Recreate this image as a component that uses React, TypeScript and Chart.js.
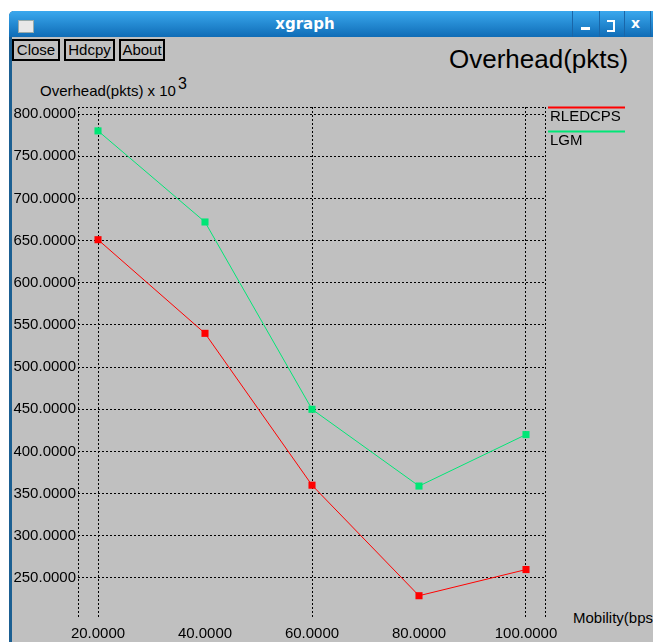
import React, { useEffect, useRef } from "react";
import { Chart, registerables } from "chart.js";

Chart.register(...registerables);

const mobility = [20, 40, 60, 80, 100];
const rledcpsValues = [651, 540, 360, 229, 260];
const lgmValues = [780, 672, 450, 359, 420];
const seriesNames = ["RLEDCPS", "LGM"];
const yTicks = [250, 300, 350, 400, 450, 500, 550, 600, 650, 700, 750, 800];
const xTicks = [20, 40, 60, 80, 100];
const xGridAt = [20, 60, 100];

const FONT = "'Liberation Sans', Arial, sans-serif";
const GRAY = "#c0c0c0";

const frameAndLegend = {
  id: "frameAndLegend",
  afterDraw(chart: any) {
    const { ctx, chartArea } = chart;
    const { left, right, top, bottom } = chartArea;
    ctx.save();
    ctx.strokeStyle = "#000";
    ctx.lineWidth = 1;
    ctx.setLineDash([2, 2]);
    ctx.beginPath();
    ctx.moveTo(left, top + 0.5);
    ctx.lineTo(right, top + 0.5);
    ctx.moveTo(right - 0.5, top);
    ctx.lineTo(right - 0.5, bottom);
    ctx.moveTo(left + 0.5, top);
    ctx.lineTo(left + 0.5, bottom);
    ctx.stroke();
    ctx.setLineDash([]);
    chart.data.datasets.forEach((ds: any, i: number) => {
      const y = top + i * 24;
      ctx.strokeStyle = ds.borderColor;
      ctx.lineWidth = 2;
      ctx.beginPath();
      ctx.moveTo(right + 2, y + 0.5);
      ctx.lineTo(right + 79, y + 0.5);
      ctx.stroke();
      ctx.fillStyle = "#000";
      ctx.font = `15px ${FONT}`;
      ctx.textBaseline = "top";
      ctx.textAlign = "left";
      ctx.fillText(ds.label, right + 4, y + 2);
    });
    ctx.restore();
  },
};

export default function App() {
  const canvasRef = useRef<HTMLCanvasElement | null>(null);

  useEffect(() => {
    document.body.style.margin = "0";
    const canvas = canvasRef.current;
    if (!canvas) return;
    const chart = new Chart(canvas, {
      type: "line",
      data: {
        datasets: [
          {
            label: seriesNames[0],
            data: mobility.map((x, i) => ({ x, y: rledcpsValues[i] })),
            borderColor: "#ff0000",
            backgroundColor: "#ff0000",
            borderWidth: 1,
            pointStyle: "rect",
            pointRadius: 5,
            pointBorderWidth: 0,
          },
          {
            label: seriesNames[1],
            data: mobility.map((x, i) => ({ x, y: lgmValues[i] })),
            borderColor: "#00e676",
            backgroundColor: "#00e676",
            borderWidth: 1,
            pointStyle: "rect",
            pointRadius: 5,
            pointBorderWidth: 0,
          },
        ],
      },
      options: {
        responsive: false,
        animation: false,
        events: [],
        layout: { padding: { left: 0, top: 107, right: 107, bottom: 0 } },
        plugins: { legend: { display: false }, tooltip: { enabled: false }, title: { display: false } },
        scales: {
          x: {
            type: "linear",
            min: 16.26,
            max: 103.74,
            afterBuildTicks: (scale: any) => {
              scale.ticks = xTicks.map((v) => ({ value: v }));
            },
            afterFit: (scale: any) => {
              scale.height = 25;
            },
            ticks: {
              autoSkip: false,
              maxRotation: 0,
              minRotation: 0,
              padding: 8,
              color: "#000",
              font: { family: FONT, size: 15 },
              callback: (v: any) => Number(v).toFixed(4),
            },
            grid: {
              drawTicks: false,
              lineWidth: 1,
              color: (c: any) => (c.tick && xGridAt.includes(c.tick.value) ? "#000" : "rgba(0,0,0,0)"),
            },
            border: { display: false, dash: [2, 2] },
          },
          y: {
            type: "linear",
            min: 203.77,
            max: 808.3,
            afterBuildTicks: (scale: any) => {
              scale.ticks = yTicks.map((v) => ({ value: v }));
            },
            afterFit: (scale: any) => {
              scale.width = 78;
            },
            ticks: {
              padding: 2,
              color: "#000",
              font: { family: FONT, size: 15 },
              callback: (v: any) => Number(v).toFixed(4),
            },
            grid: { drawTicks: false, color: "#000", lineWidth: 1 },
            border: { display: false, dash: [2, 2] },
          },
        },
      } as any,
      plugins: [frameAndLegend],
    } as any);
    return () => chart.destroy();
  }, []);

  const btn: React.CSSProperties = {
    position: "absolute",
    top: 39,
    height: 22,
    border: "2px solid #000",
    boxSizing: "border-box",
    fontFamily: FONT,
    fontSize: 15,
    lineHeight: "18px",
    textAlign: "center",
    color: "#000",
  };

  return (
    <div style={{ position: "relative", width: 653, height: 642, background: "#fff", overflow: "hidden" }}>
      <div
        style={{
          position: "absolute",
          left: 9,
          top: 11,
          width: 660,
          height: 640,
          background: GRAY,
          borderLeft: "3px solid #1b5f92",
          borderTopLeftRadius: 5,
        }}
      />
      <div
        style={{
          position: "absolute",
          left: 9,
          top: 11,
          width: 660,
          height: 26,
          background: "linear-gradient(to bottom, #3aa8ee, #0f6cb6)",
          borderTopLeftRadius: 5,
        }}
      />
      <div style={{ position: "absolute", left: 18, top: 20, width: 14, height: 11, background: "#e8e8e8", border: "1px solid #9aa" }} />
      <div
        style={{
          position: "absolute",
          left: 0,
          width: 610,
          top: 15,
          textAlign: "center",
          color: "#fff",
          fontFamily: "'DejaVu Sans', sans-serif",
          fontWeight: "bold",
          fontSize: 15,
        }}
      >
        xgraph
      </div>
      {[572, 599, 624, 650].map((x) => (
        <div key={x} style={{ position: "absolute", left: x, top: 11, width: 1, height: 26, background: "#1a66a8" }} />
      ))}
      <div style={{ position: "absolute", left: 581, top: 27, width: 9, height: 3, background: "#fff" }} />
      <div style={{ position: "absolute", left: 607, top: 20, width: 6, height: 8, borderTop: "2px solid #fff", borderRight: "2px solid #fff", borderBottom: "2px solid #fff" }} />
      <div style={{ position: "absolute", left: 631, top: 15, color: "#fff", fontFamily: "'DejaVu Sans', sans-serif", fontWeight: "bold", fontSize: 14 }}>x</div>

      <div style={{ ...btn, left: 12, width: 48 }}>Close</div>
      <div style={{ ...btn, left: 64, width: 51 }}>Hdcpy</div>
      <div style={{ ...btn, left: 119, width: 46 }}>About</div>

      <div
        style={{
          position: "absolute",
          left: 449,
          top: 44,
          fontFamily: FONT,
          fontSize: 26,
          color: "#000",
          whiteSpace: "nowrap",
        }}
      >
        Overhead(pkts)
      </div>
      <div
        style={{
          position: "absolute",
          left: 40,
          top: 75,
          fontFamily: FONT,
          fontSize: 15,
          color: "#000",
          whiteSpace: "nowrap",
        }}
      >
        Overhead(pkts) x 10<sup style={{ fontSize: 16, verticalAlign: "7px", marginLeft: 2 }}>3</sup>
      </div>
      <div
        style={{
          position: "absolute",
          left: 573,
          top: 609,
          fontFamily: FONT,
          fontSize: 15,
          color: "#000",
          whiteSpace: "nowrap",
        }}
      >
        Mobility(bps
      </div>
      <canvas ref={canvasRef} width={653} height={642} style={{ position: "absolute", left: 0, top: 0 }} />
    </div>
  );
}
